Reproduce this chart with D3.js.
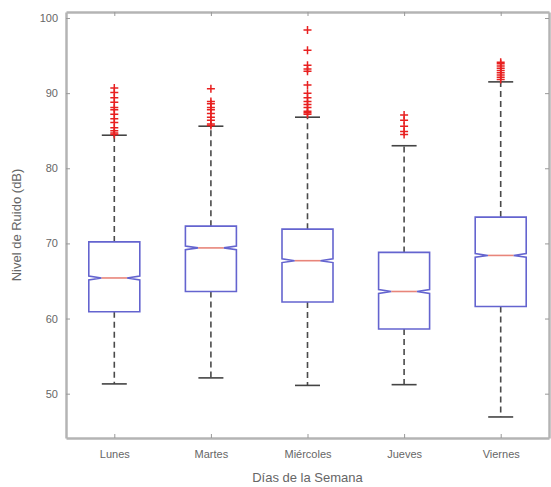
<!DOCTYPE html>
<html>
<head>
<meta charset="utf-8">
<script src="https://cdn.jsdelivr.net/npm/d3@7"></script>
<style>
  body { margin: 0; background: #fff; }
  svg { display: block; font-family: "Liberation Sans", Arial, sans-serif; }
</style>
</head>
<body>
<div id="chart"></div>
<script>
const days = ['Lunes', 'Martes', 'Miércoles', 'Jueves', 'Viernes']
const q1 = [60.9, 63.6, 62.2, 58.6, 61.6]
const medians = [65.4, 69.4, 67.7, 63.6, 68.4]
const q3 = [70.2, 72.3, 71.9, 68.8, 73.5]
const notchLow = [65.15, 69.15, 67.45, 63.35, 68.15]
const notchHigh = [65.65, 69.65, 67.95, 63.85, 68.65]
const whiskerLow = [51.3, 52.1, 51.1, 51.2, 46.9]
const whiskerHigh = [84.4, 85.6, 86.8, 83.0, 91.5]
const outliers = [
    [90.7, 90.1, 89.4, 88.8, 88.1, 87.8, 87.2, 86.6, 86.1, 85.4, 85.0, 84.7, 84.5],
    [90.6, 88.9, 88.6, 88.1, 87.8, 87.3, 86.8, 86.4, 85.9, 85.7],
    [98.4, 95.7, 93.7, 93.2, 92.9, 91.1, 90.0, 89.4, 88.9, 88.5, 88.1, 87.6, 87.4, 87.2],
    [87.1, 86.4, 85.6, 84.9, 84.5],
    [94.1, 93.9, 93.6, 93.3, 93.0, 92.7, 92.4, 92.1, 91.8]
]
const yTicks = [50, 60, 70, 80, 90, 100]

function draw_boxplot() {
    const width = 551, height = 487
    const margins = {'left': 66, 'right': 2, 'top': 12, 'bottom': 49}

    const svg = d3.select('#chart').append('svg')
        .attr('width', width).attr('height', height)

    const x = d3.scalePoint().domain(days)
        .range([margins.left, width - margins.right]).padding(0.5)
    const y = d3.scaleLinear().domain([44.1, 100.8])
        .range([height - margins.bottom, margins.top])

    const boxW = 51, capW = 25
    const axisCol = '#b4b4b4', textCol = '#666'

    const stats = days.map((d, i) => ({
        day: d, q1: q1[i], med: medians[i], q3: q3[i],
        nlo: notchLow[i], nhi: notchHigh[i],
        wlo: whiskerLow[i], whi: whiskerHigh[i], out: outliers[i]
    }))

    const g = svg.append('g')

    // whiskers (dashed)
    g.selectAll('.wh-up').data(stats).join('line')
        .attr('x1', d => x(d.day)).attr('x2', d => x(d.day))
        .attr('y1', d => y(d.q3)).attr('y2', d => y(d.whi))
        .attr('stroke', '#4a4a4a').attr('stroke-width', 1.6).attr('stroke-dasharray', '6,4')
    g.selectAll('.wh-dn').data(stats).join('line')
        .attr('x1', d => x(d.day)).attr('x2', d => x(d.day))
        .attr('y1', d => y(d.q1)).attr('y2', d => y(d.wlo))
        .attr('stroke', '#4a4a4a').attr('stroke-width', 1.6).attr('stroke-dasharray', '6,4')

    // caps
    const caps = stats.flatMap(d => [{day: d.day, v: d.whi}, {day: d.day, v: d.wlo}])
    g.selectAll('.cap').data(caps).join('line')
        .attr('x1', d => x(d.day) - capW / 2).attr('x2', d => x(d.day) + capW / 2)
        .attr('y1', d => y(d.v)).attr('y2', d => y(d.v))
        .attr('stroke', '#444').attr('stroke-width', 1.6)

    // notched boxes
    function boxPath(d) {
        const l = x(d.day) - boxW / 2, r = x(d.day) + boxW / 2
        const li = l + boxW / 4, ri = r - boxW / 4
        return 'M' + l + ',' + y(d.q3) + 'L' + r + ',' + y(d.q3) +
            'L' + r + ',' + y(d.nhi) + 'L' + ri + ',' + y(d.med) + 'L' + r + ',' + y(d.nlo) +
            'L' + r + ',' + y(d.q1) + 'L' + l + ',' + y(d.q1) +
            'L' + l + ',' + y(d.nlo) + 'L' + li + ',' + y(d.med) + 'L' + l + ',' + y(d.nhi) + 'Z'
    }
    g.selectAll('.box').data(stats).join('path')
        .attr('d', boxPath)
        .attr('fill', '#fff').attr('stroke', '#6464cf').attr('stroke-width', 1.6)

    // medians
    g.selectAll('.med').data(stats).join('line')
        .attr('x1', d => x(d.day) - boxW / 4).attr('x2', d => x(d.day) + boxW / 4)
        .attr('y1', d => y(d.med)).attr('y2', d => y(d.med))
        .attr('stroke', '#e8857a').attr('stroke-width', 1.6)

    // outliers as red +
    const pts = stats.flatMap(d => d.out.map(v => ({day: d.day, v: v})))
    const s = 4
    g.selectAll('.out').data(pts).join('path')
        .attr('d', d => 'M' + (x(d.day) - s) + ',' + y(d.v) + 'h' + (2 * s) +
            'M' + x(d.day) + ',' + (y(d.v) - s) + 'v' + (2 * s))
        .attr('stroke', '#e82020').attr('stroke-width', 1.5).attr('fill', 'none')

    // axes frame
    const x0 = margins.left, x1 = width - margins.right
    const y0 = margins.top, y1 = height - margins.bottom

    const ax = svg.append('g')
    ax.append('g').attr('transform', 'translate(0,' + y1 + ')')
        .call(d3.axisBottom(x).tickSizeInner(-4).tickSizeOuter(0).tickPadding(12))
    ax.append('g').attr('transform', 'translate(0,' + y0 + ')')
        .call(d3.axisTop(x).tickSizeInner(-4).tickSizeOuter(0).tickFormat(''))
    ax.append('g').attr('transform', 'translate(' + x0 + ',0)')
        .call(d3.axisLeft(y).tickValues(yTicks).tickSizeInner(-4).tickSizeOuter(0).tickPadding(8))
    ax.append('g').attr('transform', 'translate(' + x1 + ',0)')
        .call(d3.axisRight(y).tickValues(yTicks).tickSizeInner(-4).tickSizeOuter(0).tickFormat(''))

    ax.selectAll('.domain').attr('stroke', axisCol).attr('stroke-width', 2.5)
    ax.selectAll('.tick line').attr('stroke', '#999').attr('stroke-width', 1)
    ax.selectAll('.tick text').attr('fill', textCol).style('font-size', '11px')

    // axis labels
    svg.append('text')
        .attr('x', (x0 + x1) / 2).attr('y', 482)
        .attr('text-anchor', 'middle').attr('fill', textCol).style('font-size', '13px')
        .text('Días de la Semana')
    svg.append('text')
        .attr('transform', 'translate(21,' + ((y0 + y1) / 2) + ') rotate(-90)')
        .attr('text-anchor', 'middle').attr('fill', textCol).style('font-size', '13px')
        .text('Nivel de Ruido (dB)')
}

draw_boxplot()
</script>
</body>
</html>
